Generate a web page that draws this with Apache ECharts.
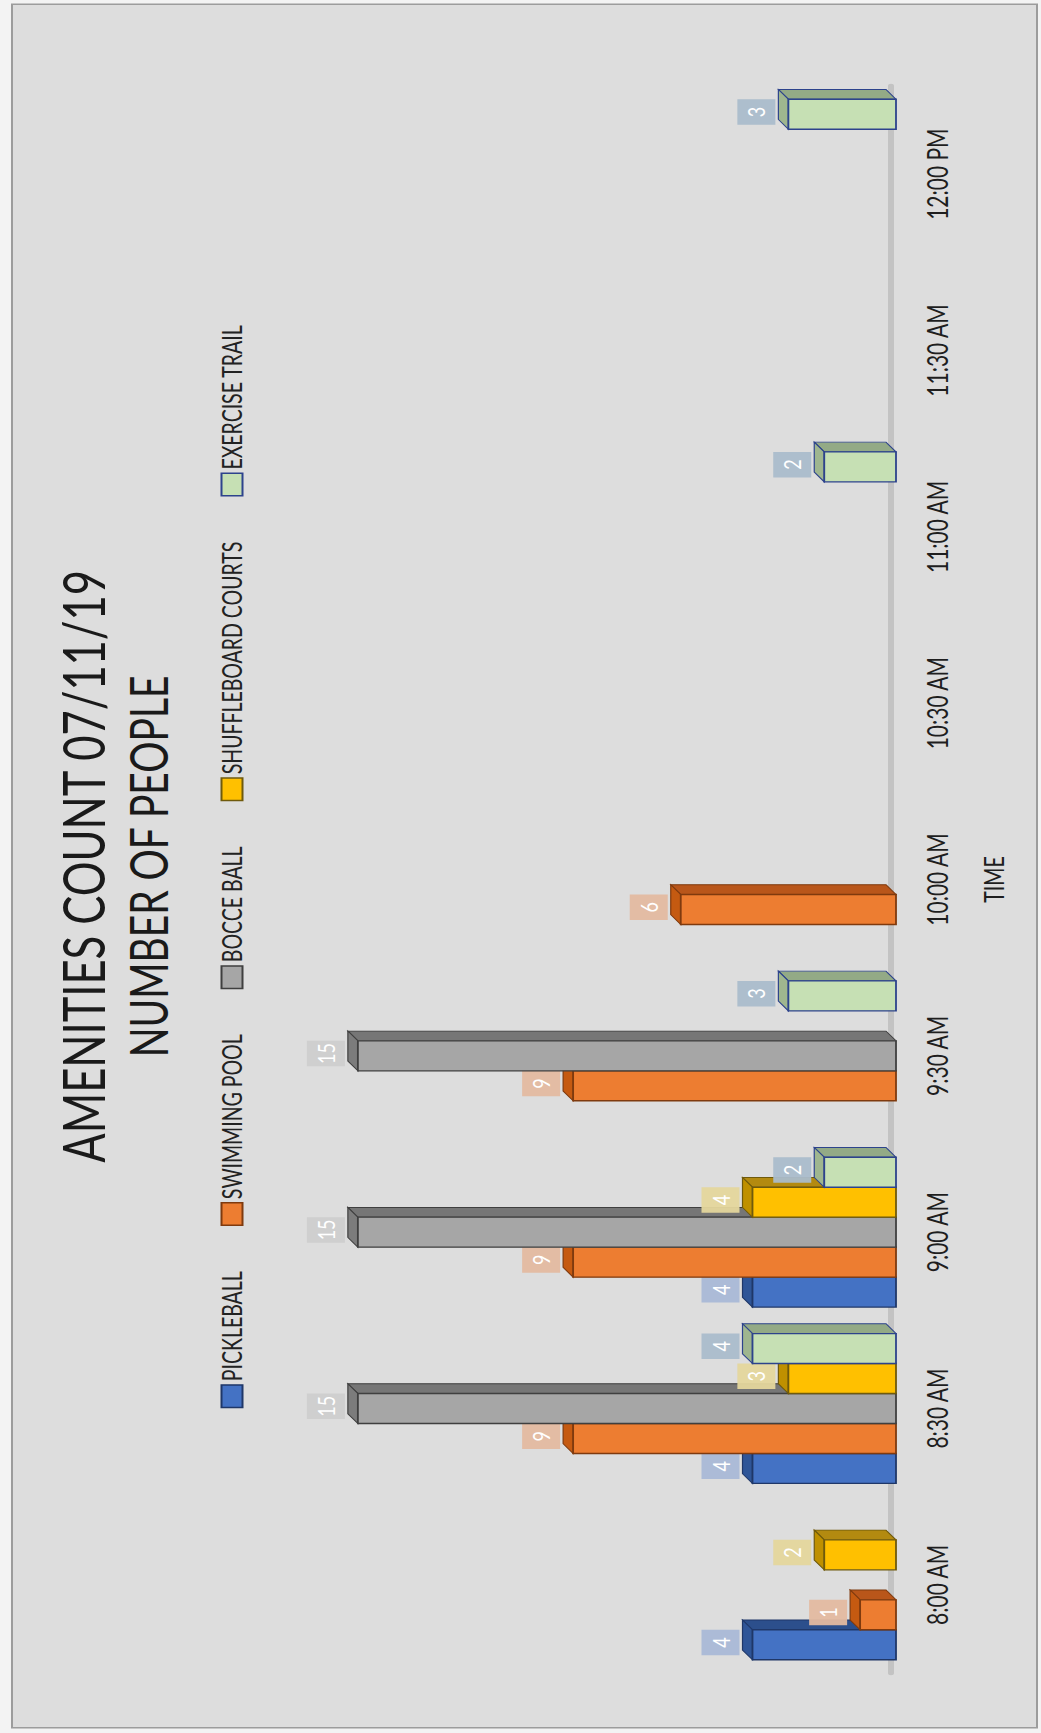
<!DOCTYPE html>
<html>
<head>
<meta charset="utf-8">
<title>Amenities count 07/11/19</title>
<script src="https://cdn.jsdelivr.net/npm/echarts@6/dist/echarts.min.js"></script>
<style>
  html, body { margin: 0; padding: 0; width: 1041px; height: 1733px; overflow: hidden; background: #f3f3f3; }
  /* The chart is laid out landscape, then turned a quarter turn counter-clockwise
     and narrowed along its time axis so it stands upright on the page. */
  #chart {
    position: absolute; left: 0; top: 0;
    width: 2311px; height: 1041px;
    transform-origin: 0 0;
    transform: translate(0px, 1733px) rotate(-90deg) scale(0.75, 1);
  }
</style>
</head>
<body>
<div id="chart"></div>
<script>
// ---- data -------------------------------------------------------------
const times = ['8:00 AM', '8:30 AM', '9:00 AM', '9:30 AM', '10:00 AM', '10:30 AM', '11:00 AM', '11:30 AM', '12:00 PM'];
const seriesNames = ['PICKLEBALL', 'SWIMMING POOL', 'BOCCE BALL', 'SHUFFLEBOARD COURTS', 'EXERCISE TRAIL'];
const pickleball    = [4, 4, 4, null, null, null, null, null, null];
const swimmingPool  = [1, 9, 9, 9, 6, null, null, null, null];
const bocceBall     = [null, 15, 15, 15, null, null, null, null, null];
const shuffleboard  = [2, 3, 4, null, null, null, null, null, null];
const exerciseTrail = [null, 4, 2, 3, null, null, 2, null, 3];
const valueMax = 16;

// ---- look ---------------------------------------------------------------
const palettes = [
  { front: '#4472c4', top: '#2f5597', side: '#2c4f8c', edge: '#1f3768', tag: '#a9b8d6' },
  { front: '#ed7d31', top: '#c55a11', side: '#b9561a', edge: '#7f3a0e', tag: '#e3b9a0' },
  { front: '#a6a6a6', top: '#7c7c7c', side: '#767676', edge: '#3f3f3f', tag: '#cdcdcd' },
  { front: '#ffc000', top: '#bf9000', side: '#b38a10', edge: '#6f5a0c', tag: '#e4d69c' },
  { front: '#c6e0b4', top: '#9fb68f', side: '#93aa86', edge: '#2d438c', tag: '#aabccb' }
];
const CLUSTER_SHARE = 0.85;   // part of each time slot filled by the five columns
const DEPTH_X = 13, DEPTH_Y = 10; // 3-D extrusion of each column
const FONT = 'Lato';

function columnRenderer(slot, pal) {
  return function (params, api) {
    const c = api.value(0);
    const v = api.value(1);
    const base = api.coord([c, 0]);
    const top = api.coord([c, v]);
    const band = api.size([1, 0])[0];
    const bw = band * CLUSTER_SHARE / seriesNames.length;
    const x0 = base[0] - band * CLUSTER_SHARE / 2 + slot * bw;
    const x1 = x0 + bw;
    const yb = base[1], yt = top[1];
    const cx = (x0 + x1) / 2 + 3;
    const tagH = 38, tagW = 34;
    const tagBottom = yt - DEPTH_Y - 3;
    return {
      type: 'group',
      children: [
        { type: 'polygon', shape: { points: [[x1, yt], [x1 + DEPTH_X, yt - DEPTH_Y], [x1 + DEPTH_X, yb - DEPTH_Y], [x1, yb]] },
          style: { fill: pal.side, stroke: pal.edge, lineWidth: 1.2 } },
        { type: 'polygon', shape: { points: [[x0, yt], [x0 + DEPTH_X, yt - DEPTH_Y], [x1 + DEPTH_X, yt - DEPTH_Y], [x1, yt]] },
          style: { fill: pal.top, stroke: pal.edge, lineWidth: 1.2 } },
        { type: 'rect', shape: { x: x0, y: yt, width: bw, height: yb - yt },
          style: { fill: pal.front, stroke: pal.edge, lineWidth: 1.8 } },
        { type: 'rect', shape: { x: cx - tagW / 2, y: tagBottom - tagH, width: tagW, height: tagH },
          style: { fill: pal.tag, opacity: 0.95 } },
        { type: 'text', x: cx, y: tagBottom - tagH / 2,
          style: { text: String(v), fill: '#ffffff', fontSize: 24, fontFamily: FONT,
                   align: 'center', verticalAlign: 'middle' } }
      ]
    };
  };
}

const valueSets = [pickleball, swimmingPool, bocceBall, shuffleboard, exerciseTrail];
const series = valueSets.map(function (vals, k) {
  const pal = palettes[k];
  return {
    name: seriesNames[k],
    type: 'custom',
    coordinateSystem: 'cartesian2d',
    encode: { x: 0, y: 1 },
    itemStyle: { color: pal.front, borderColor: pal.edge, borderWidth: 1.5 },
    data: vals.map(function (v, i) { return v == null ? null : [i, v]; }).filter(Boolean),
    renderItem: columnRenderer(k, pal)
  };
});

const chart = echarts.init(document.getElementById('chart'), null, { renderer: 'svg' });
chart.setOption({
  animation: false,
  backgroundColor: '#f3f3f3',
  textStyle: { fontFamily: FONT },
  graphic: [{
    type: 'rect', z: -1, silent: true,
    shape: { x: 7, y: 12, width: 2298, height: 1025 },
    style: { fill: '#dddddd', stroke: '#9c9c9c', lineWidth: 2 }
  }],
  title: [
    { text: 'AMENITIES COUNT 07/11/19', left: 'center', top: 53, padding: 0,
      textStyle: { fontSize: 58, lineHeight: 58, fontWeight: 'normal', color: '#1a1a1a', fontFamily: FONT } },
    { text: 'NUMBER OF PEOPLE', left: 'center', top: 122, padding: 0,
      textStyle: { fontSize: 52, lineHeight: 52, fontWeight: 'normal', color: '#1a1a1a', fontFamily: FONT } }
  ],
  legend: {
    data: seriesNames,
    left: 'center', top: 219, padding: 0,
    icon: 'rect', itemWidth: 30, itemHeight: 21, itemGap: 60,
    textStyle: { fontSize: 26, lineHeight: 26, color: '#222222', fontFamily: FONT }
  },
  grid: { left: 80, right: 115, top: 322, bottom: 145, containLabel: false },
  xAxis: {
    type: 'category',
    data: times,
    offset: -5,
    axisTick: { show: false },
    axisLine: { lineStyle: { color: '#c3c3c3', width: 6 } },
    axisLabel: { fontSize: 28, lineHeight: 28, color: '#1e1e1e', margin: 32, interval: 0, fontFamily: FONT },
    name: 'TIME',
    nameLocation: 'middle',
    nameGap: 90,
    nameTextStyle: { fontSize: 26, lineHeight: 26, color: '#1e1e1e', fontFamily: FONT }
  },
  yAxis: { type: 'value', min: 0, max: valueMax, show: false },
  series: series
});
</script>
</body>
</html>
